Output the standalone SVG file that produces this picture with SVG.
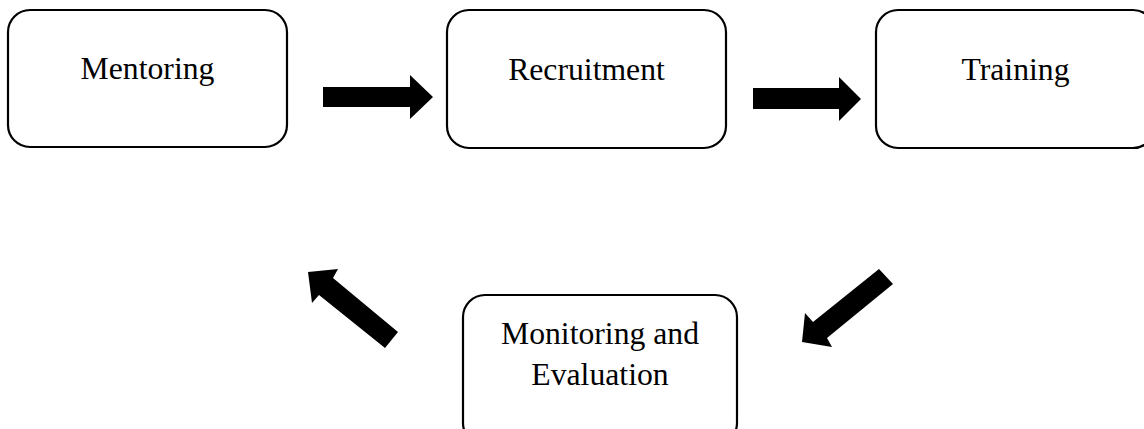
<svg xmlns="http://www.w3.org/2000/svg" width="1144" height="429" viewBox="0 0 1144 429">
<style>
.box{fill:#fff;stroke:#000;stroke-width:2.2}
.lbl{font-family:"Liberation Serif","Times New Roman",serif;font-size:31.7px;fill:#000;text-anchor:middle}
.arr{fill:#000;stroke:none}
</style>
<rect width="1144" height="429" fill="#fff"/>
<g id="connectors">
<polygon class="arr" points="323,87 410,87 410,75 433,97 410,119 410,107 323,107"/>
<polygon class="arr" points="753,88 839,88 839,77 861,99 839,121 839,109 753,109"/>
<polygon class="arr" points="398,332 333,278 338,269 308,272 312,303 319,295 385,348"/>
<polygon class="arr" points="879,269 893,284 827,338 832,347 802,342 805,313 813,322"/>
</g>
<g id="mentoring">
<rect class="box" x="8" y="10" width="279" height="137" rx="22"/>
<text class="lbl" x="147.5" y="79">Mentoring</text>
</g>
<g id="recruitment">
<rect class="box" x="447" y="10" width="279" height="138" rx="22"/>
<text class="lbl" x="586.5" y="80">Recruitment</text>
</g>
<g id="training">
<rect class="box" x="876" y="10" width="279" height="138" rx="22"/>
<text class="lbl" x="1015.5" y="80">Training</text>
</g>
<g id="monitoring">
<rect class="box" x="463" y="295" width="274" height="150" rx="22"/>
<text class="lbl" x="600" y="344">Monitoring and</text>
<text class="lbl" x="600" y="385">Evaluation</text>
</g>
</svg>
